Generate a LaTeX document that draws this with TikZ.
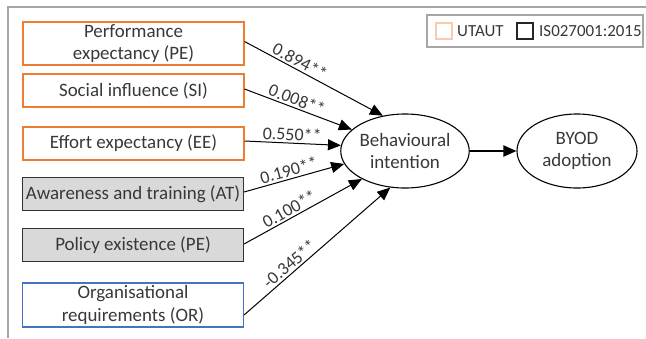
\documentclass[tikz,border=0pt]{standalone}
\usepackage{fontspec}
\setmainfont{Carlito}
\usetikzlibrary{arrows.meta,shapes.geometric}
\definecolor{utorange}{HTML}{ED7D31}
\definecolor{utlight}{HTML}{F8CBAD}
\definecolor{orblue}{HTML}{4472C4}
\definecolor{isogray}{HTML}{D9D9D9}
\definecolor{txt}{HTML}{383838}
\definecolor{frame}{HTML}{A6A6A6}
\tikzset{
  base/.style={rectangle, minimum width=221bp, minimum height=33bp, inner sep=0pt,
    align=center, text=txt, font=\fontsize{19}{22.5}\selectfont, line width=1.1bp},
  utbox/.style={base, draw=utorange},
  isobox/.style={base, draw=black!80, fill=isogray},
  orbox/.style={base, draw=orblue},
  construct/.style={ellipse, draw=black, line width=1.1bp, minimum width=120bp, minimum height=74bp,
    inner sep=0pt, align=center, text=txt, font=\fontsize{19}{22.5}\selectfont},
  path/.style={draw=black, line width=1bp, -{Triangle[length=13bp,width=11bp]}},
  coef/.style={sloped, above, text=txt, font=\fontsize{18}{20}\selectfont, inner sep=2bp},
  legtext/.style={anchor=west, text=txt, font=\fontsize{17}{20}\selectfont, inner sep=0pt}
}
\begin{document}
\begin{tikzpicture}[x=1bp,y=-1bp]
\useasboundingbox (0,0) rectangle (646,338);
% frame
\draw[frame, line width=1.2bp] (8,338) -- (8,7) -- (646,7);
% legend
\node[draw=frame, line width=1.5bp, minimum width=216bp, minimum height=32bp, inner sep=0pt] (legend) at (535,31) {};
\node[draw=utlight, line width=1.2bp, minimum width=16bp, minimum height=16bp, inner sep=0pt] (lgut) at (444,31) {};
\node[legtext] (lgutt) at (457,31) {UTAUT};
\node[draw=black!85, line width=1.2bp, minimum width=16bp, minimum height=16bp, inner sep=0pt] (lgiso) at (525,31) {};
\node[legtext] (lgisot) at (539,31) {IS027001:2015};
% boxes
\node[utbox, minimum height=43bp] (pe) at (133.5,43.5) {Performance\\expectancy (PE)};
\node[utbox] (si) at (133.5,90.5) {Social influence (SI)};
\node[utbox] (ee) at (133.5,143.5) {Effort expectancy (EE)};
\node[isobox] (at) at (133,194) {Awareness and training (AT)};
\node[isobox] (po) at (133,245) {Policy existence (PE)};
\node[orbox, minimum height=44bp] (or) at (133,305) {Organisational\\requirements (OR)};
% constructs
\node[construct] (bi) at (405,151) {Behavioural\\intention};
\node[construct] (byod) at (577,151) {BYOD\\adoption};
% paths
\draw[path] ([yshift=2bp]pe.east) -- node[coef, pos=0.37] {0.894**} (bi.122);
\draw[path] ([yshift=1.5bp]si.east) -- node[coef, pos=0.46] {0.008**} (bi.158);
\draw[path] ([yshift=2.5bp]ee.east) -- node[coef, pos=0.49] {0.550**} (bi.175);
\draw[path] ([yshift=2bp]at.east) -- node[coef, pos=0.47] {0.190**} (bi.192);
\draw[path] ([yshift=1bp]po.east) -- node[coef, pos=0.42] {0.100**} (bi.213);
\draw[path] ([yshift=-10bp]or.east) -- node[coef, pos=0.35] {-0.345**} (bi.248);
\draw[path, line width=2bp] (bi.east) -- (byod.west);
\end{tikzpicture}
\end{document}
